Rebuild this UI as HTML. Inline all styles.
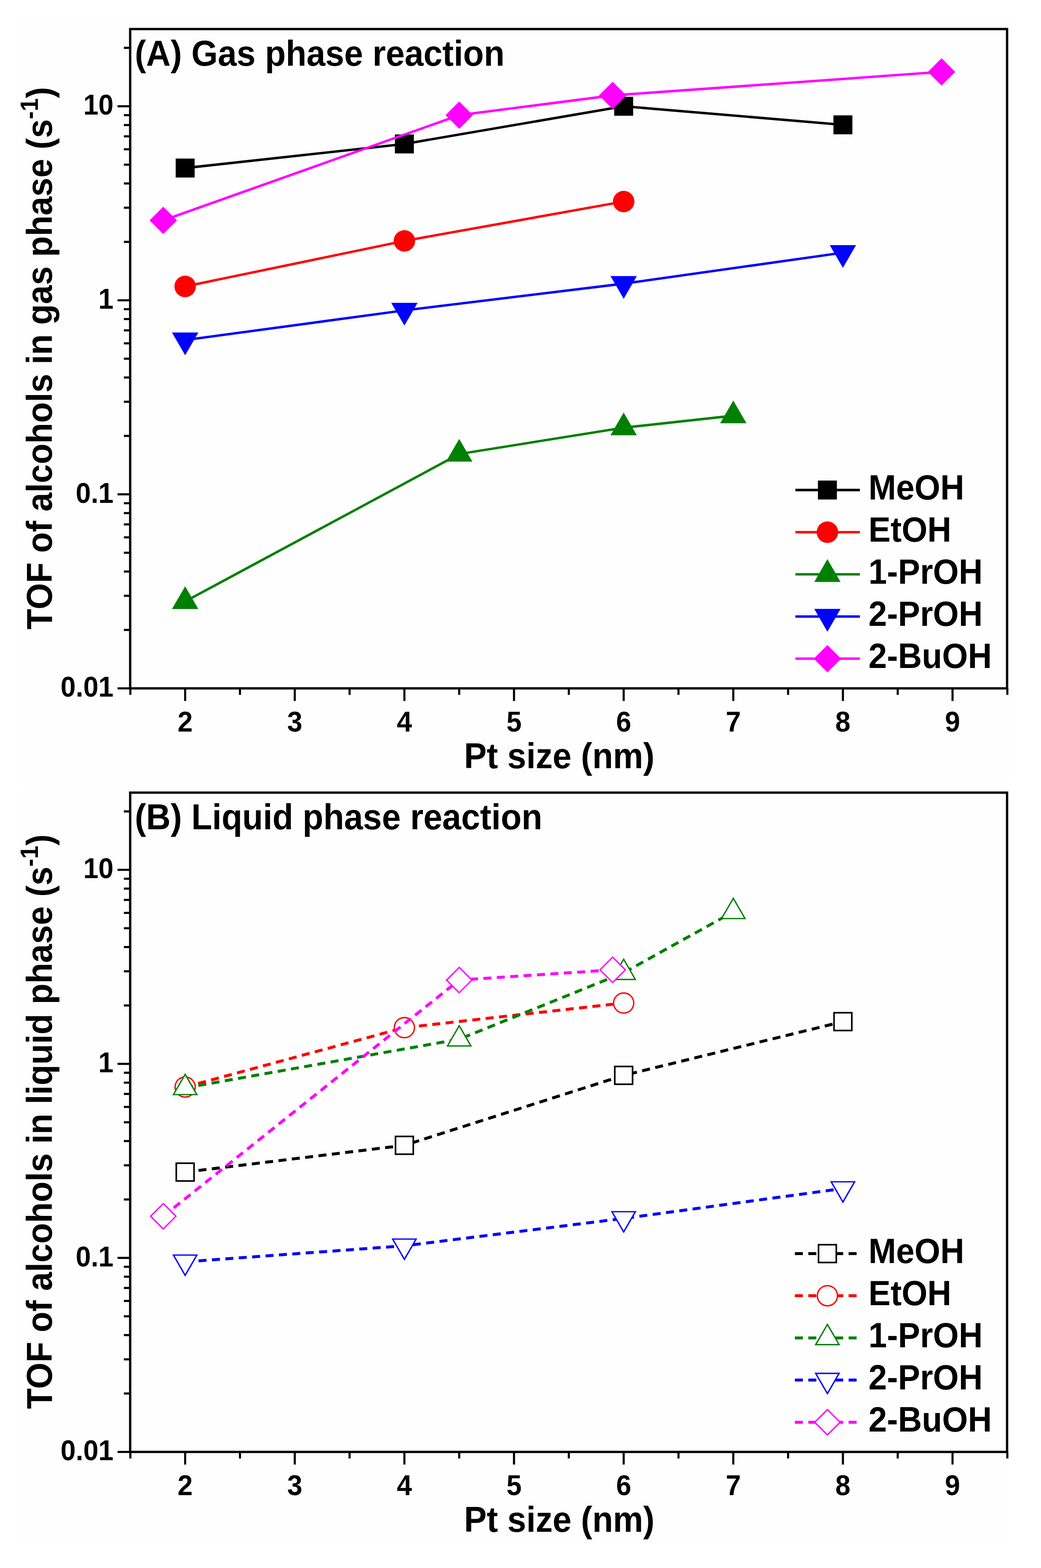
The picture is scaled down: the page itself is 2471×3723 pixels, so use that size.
<!DOCTYPE html><html><head><meta charset="utf-8"><title>TOF of alcohols vs Pt size</title><style>html,body{margin:0;padding:0;background:#fff;overflow:hidden;}svg{display:block}text{font-family:'Liberation Sans',sans-serif;font-weight:bold;fill:#000}</style></head><body>
<svg width="2471" height="3723" viewBox="0 0 2471 3723">
<rect x="0" y="0" width="2471" height="3723" fill="#ffffff"/>
<rect x="38" y="41" width="2363" height="1809" fill="#fefefe"/>
<rect x="47" y="1874" width="2346" height="1789" fill="#fefefe"/>
<rect x="309.0" y="69.0" width="2081.5" height="1565.4" fill="none" stroke="#000" stroke-width="5.5"/>
<line x1="309.4" y1="1634.4" x2="309.4" y2="1649.9" stroke="#000" stroke-width="5"/>
<line x1="439.5" y1="1634.4" x2="439.5" y2="1664.4" stroke="#000" stroke-width="5"/>
<line x1="569.6" y1="1634.4" x2="569.6" y2="1649.9" stroke="#000" stroke-width="5"/>
<line x1="699.7" y1="1634.4" x2="699.7" y2="1664.4" stroke="#000" stroke-width="5"/>
<line x1="829.8" y1="1634.4" x2="829.8" y2="1649.9" stroke="#000" stroke-width="5"/>
<line x1="959.9" y1="1634.4" x2="959.9" y2="1664.4" stroke="#000" stroke-width="5"/>
<line x1="1090.0" y1="1634.4" x2="1090.0" y2="1649.9" stroke="#000" stroke-width="5"/>
<line x1="1220.1" y1="1634.4" x2="1220.1" y2="1664.4" stroke="#000" stroke-width="5"/>
<line x1="1350.2" y1="1634.4" x2="1350.2" y2="1649.9" stroke="#000" stroke-width="5"/>
<line x1="1480.4" y1="1634.4" x2="1480.4" y2="1664.4" stroke="#000" stroke-width="5"/>
<line x1="1610.5" y1="1634.4" x2="1610.5" y2="1649.9" stroke="#000" stroke-width="5"/>
<line x1="1740.6" y1="1634.4" x2="1740.6" y2="1664.4" stroke="#000" stroke-width="5"/>
<line x1="1870.7" y1="1634.4" x2="1870.7" y2="1649.9" stroke="#000" stroke-width="5"/>
<line x1="2000.8" y1="1634.4" x2="2000.8" y2="1664.4" stroke="#000" stroke-width="5"/>
<line x1="2130.9" y1="1634.4" x2="2130.9" y2="1649.9" stroke="#000" stroke-width="5"/>
<line x1="2261.0" y1="1634.4" x2="2261.0" y2="1664.4" stroke="#000" stroke-width="5"/>
<line x1="2391.1" y1="1634.4" x2="2391.1" y2="1649.9" stroke="#000" stroke-width="5"/>
<line x1="279.0" y1="1634.4" x2="309.0" y2="1634.4" stroke="#000" stroke-width="5"/>
<line x1="294.0" y1="1495.7" x2="309.0" y2="1495.7" stroke="#000" stroke-width="5"/>
<line x1="294.0" y1="1414.6" x2="309.0" y2="1414.6" stroke="#000" stroke-width="5"/>
<line x1="294.0" y1="1357.0" x2="309.0" y2="1357.0" stroke="#000" stroke-width="5"/>
<line x1="294.0" y1="1312.4" x2="309.0" y2="1312.4" stroke="#000" stroke-width="5"/>
<line x1="294.0" y1="1275.9" x2="309.0" y2="1275.9" stroke="#000" stroke-width="5"/>
<line x1="294.0" y1="1245.1" x2="309.0" y2="1245.1" stroke="#000" stroke-width="5"/>
<line x1="294.0" y1="1218.3" x2="309.0" y2="1218.3" stroke="#000" stroke-width="5"/>
<line x1="294.0" y1="1194.8" x2="309.0" y2="1194.8" stroke="#000" stroke-width="5"/>
<line x1="279.0" y1="1173.7" x2="309.0" y2="1173.7" stroke="#000" stroke-width="5"/>
<line x1="294.0" y1="1035.0" x2="309.0" y2="1035.0" stroke="#000" stroke-width="5"/>
<line x1="294.0" y1="953.9" x2="309.0" y2="953.9" stroke="#000" stroke-width="5"/>
<line x1="294.0" y1="896.3" x2="309.0" y2="896.3" stroke="#000" stroke-width="5"/>
<line x1="294.0" y1="851.7" x2="309.0" y2="851.7" stroke="#000" stroke-width="5"/>
<line x1="294.0" y1="815.2" x2="309.0" y2="815.2" stroke="#000" stroke-width="5"/>
<line x1="294.0" y1="784.4" x2="309.0" y2="784.4" stroke="#000" stroke-width="5"/>
<line x1="294.0" y1="757.6" x2="309.0" y2="757.6" stroke="#000" stroke-width="5"/>
<line x1="294.0" y1="734.1" x2="309.0" y2="734.1" stroke="#000" stroke-width="5"/>
<line x1="279.0" y1="713.0" x2="309.0" y2="713.0" stroke="#000" stroke-width="5"/>
<line x1="294.0" y1="574.3" x2="309.0" y2="574.3" stroke="#000" stroke-width="5"/>
<line x1="294.0" y1="493.2" x2="309.0" y2="493.2" stroke="#000" stroke-width="5"/>
<line x1="294.0" y1="435.6" x2="309.0" y2="435.6" stroke="#000" stroke-width="5"/>
<line x1="294.0" y1="391.0" x2="309.0" y2="391.0" stroke="#000" stroke-width="5"/>
<line x1="294.0" y1="354.5" x2="309.0" y2="354.5" stroke="#000" stroke-width="5"/>
<line x1="294.0" y1="323.7" x2="309.0" y2="323.7" stroke="#000" stroke-width="5"/>
<line x1="294.0" y1="296.9" x2="309.0" y2="296.9" stroke="#000" stroke-width="5"/>
<line x1="294.0" y1="273.4" x2="309.0" y2="273.4" stroke="#000" stroke-width="5"/>
<line x1="279.0" y1="252.3" x2="309.0" y2="252.3" stroke="#000" stroke-width="5"/>
<line x1="294.0" y1="113.6" x2="309.0" y2="113.6" stroke="#000" stroke-width="5"/>
<line x1="294.0" y1="113.6" x2="309.0" y2="113.6" stroke="#000" stroke-width="5"/>
<text transform="translate(269.5,1654.4) scale(0.95,1)" font-size="68" text-anchor="end" class="t">0.01</text>
<text transform="translate(269.5,1193.7) scale(0.95,1)" font-size="68" text-anchor="end" class="t">0.1</text>
<text transform="translate(269.5,733.0) scale(0.95,1)" font-size="68" text-anchor="end" class="t">1</text>
<text transform="translate(269.5,272.3) scale(0.95,1)" font-size="68" text-anchor="end" class="t">10</text>
<text transform="translate(439.5,1737.3) scale(0.95,1)" font-size="68" text-anchor="middle" class="t">2</text>
<text transform="translate(699.7,1737.3) scale(0.95,1)" font-size="68" text-anchor="middle" class="t">3</text>
<text transform="translate(959.9,1737.3) scale(0.95,1)" font-size="68" text-anchor="middle" class="t">4</text>
<text transform="translate(1220.1,1737.3) scale(0.95,1)" font-size="68" text-anchor="middle" class="t">5</text>
<text transform="translate(1480.4,1737.3) scale(0.95,1)" font-size="68" text-anchor="middle" class="t">6</text>
<text transform="translate(1740.6,1737.3) scale(0.95,1)" font-size="68" text-anchor="middle" class="t">7</text>
<text transform="translate(2000.8,1737.3) scale(0.95,1)" font-size="68" text-anchor="middle" class="t">8</text>
<text transform="translate(2261.0,1737.3) scale(0.95,1)" font-size="68" text-anchor="middle" class="t">9</text>
<text transform="translate(1327.5,1824.3) scale(0.937,1)" font-size="86" text-anchor="middle">Pt size (nm)</text>
<polyline points="439.5,399.0 959.9,341.8 1480.4,252.3 2000.8,296.4" fill="none" stroke="#000000" stroke-width="5.8" stroke-linejoin="round"/>
<rect x="417.0" y="376.5" width="45.0" height="45.0" fill="#000000"/>
<rect x="937.4" y="319.3" width="45.0" height="45.0" fill="#000000"/>
<rect x="1457.9" y="229.8" width="45.0" height="45.0" fill="#000000"/>
<rect x="1978.3" y="273.9" width="45.0" height="45.0" fill="#000000"/>
<polyline points="439.5,680.1 959.9,572.0 1480.4,478.5" fill="none" stroke="#ff0000" stroke-width="5.8" stroke-linejoin="round"/>
<circle cx="439.5" cy="680.1" r="25.5" fill="#ff0000"/>
<circle cx="959.9" cy="572.0" r="25.5" fill="#ff0000"/>
<circle cx="1480.4" cy="478.5" r="25.5" fill="#ff0000"/>
<polyline points="439.5,1428.0 1090.0,1078.0 1480.4,1015.5 1740.6,987.0" fill="none" stroke="#008000" stroke-width="5.8" stroke-linejoin="round"/>
<polygon points="439.5,1391.9 470.8,1446.0 408.2,1446.0" fill="#008000"/>
<polygon points="1090.0,1041.9 1121.3,1096.0 1058.8,1096.0" fill="#008000"/>
<polygon points="1480.4,979.4 1511.6,1033.5 1449.1,1033.5" fill="#008000"/>
<polygon points="1740.6,950.9 1771.8,1005.0 1709.3,1005.0" fill="#008000"/>
<polyline points="439.5,807.4 959.9,737.0 1480.4,673.5 2000.8,600.0" fill="none" stroke="#0000ff" stroke-width="5.8" stroke-linejoin="round"/>
<polygon points="439.5,843.5 470.8,789.4 408.2,789.4" fill="#0000ff"/>
<polygon points="959.9,773.1 991.2,719.0 928.7,719.0" fill="#0000ff"/>
<polygon points="1480.4,709.6 1511.6,655.5 1449.1,655.5" fill="#0000ff"/>
<polygon points="2000.8,636.1 2032.0,582.0 1969.5,582.0" fill="#0000ff"/>
<polyline points="387.5,523.2 1090.0,273.4 1454.3,226.5 2235.0,170.7" fill="none" stroke="#ff00ff" stroke-width="5.8" stroke-linejoin="round"/>
<polygon points="387.5,490.7 420.0,523.2 387.5,555.7 355.0,523.2" fill="#ff00ff"/>
<polygon points="1090.0,240.9 1122.5,273.4 1090.0,305.9 1057.5,273.4" fill="#ff00ff"/>
<polygon points="1454.3,194.0 1486.8,226.5 1454.3,259.0 1421.8,226.5" fill="#ff00ff"/>
<polygon points="2235.0,138.2 2267.5,170.7 2235.0,203.2 2202.5,170.7" fill="#ff00ff"/>
<line x1="1888" y1="1163.5" x2="2041" y2="1163.5" stroke="#000000" stroke-width="5.8"/>
<rect x="1941.5" y="1141.0" width="45.0" height="45.0" fill="#000000"/>
<text transform="translate(2061.5,1185.8) scale(0.947,1)" font-size="83.1" text-anchor="start">MeOH</text>
<line x1="1888" y1="1263.6" x2="2041" y2="1263.6" stroke="#ff0000" stroke-width="5.8"/>
<circle cx="1964.0" cy="1263.6" r="25.5" fill="#ff0000"/>
<text transform="translate(2061.5,1285.9) scale(0.947,1)" font-size="83.1" text-anchor="start">EtOH</text>
<line x1="1888" y1="1363.7" x2="2041" y2="1363.7" stroke="#008000" stroke-width="5.8"/>
<polygon points="1964.0,1327.6 1995.2,1381.7 1932.8,1381.7" fill="#008000"/>
<text transform="translate(2061.5,1386.0) scale(0.947,1)" font-size="83.1" text-anchor="start">1-PrOH</text>
<line x1="1888" y1="1463.8" x2="2041" y2="1463.8" stroke="#0000ff" stroke-width="5.8"/>
<polygon points="1964.0,1499.9 1995.2,1445.8 1932.8,1445.8" fill="#0000ff"/>
<text transform="translate(2061.5,1486.1) scale(0.947,1)" font-size="83.1" text-anchor="start">2-PrOH</text>
<line x1="1888" y1="1563.9" x2="2041" y2="1563.9" stroke="#ff00ff" stroke-width="5.8"/>
<polygon points="1964.0,1531.4 1996.5,1563.9 1964.0,1596.4 1931.5,1563.9" fill="#ff00ff"/>
<text transform="translate(2061.5,1586.2) scale(0.947,1)" font-size="83.1" text-anchor="start">2-BuOH</text>
<text transform="translate(320.0,155.5) scale(0.945,1)" font-size="85.3" text-anchor="start">(A) Gas phase reaction</text>
<text transform="translate(123.0,850.6) rotate(-90) scale(0.937,1)" text-anchor="middle" font-size="86">TOF of alcohols in gas phase (s<tspan dy="-33.3" font-size="59.8">-1</tspan><tspan dy="33.3">)</tspan></text>
<g class="b">
<rect x="309.0" y="1882.0" width="2081.5" height="1565.4" fill="none" stroke="#000" stroke-width="5.5"/>
<line x1="309.4" y1="3447.4" x2="309.4" y2="3462.9" stroke="#000" stroke-width="5"/>
<line x1="439.5" y1="3447.4" x2="439.5" y2="3477.4" stroke="#000" stroke-width="5"/>
<line x1="569.6" y1="3447.4" x2="569.6" y2="3462.9" stroke="#000" stroke-width="5"/>
<line x1="699.7" y1="3447.4" x2="699.7" y2="3477.4" stroke="#000" stroke-width="5"/>
<line x1="829.8" y1="3447.4" x2="829.8" y2="3462.9" stroke="#000" stroke-width="5"/>
<line x1="959.9" y1="3447.4" x2="959.9" y2="3477.4" stroke="#000" stroke-width="5"/>
<line x1="1090.0" y1="3447.4" x2="1090.0" y2="3462.9" stroke="#000" stroke-width="5"/>
<line x1="1220.1" y1="3447.4" x2="1220.1" y2="3477.4" stroke="#000" stroke-width="5"/>
<line x1="1350.2" y1="3447.4" x2="1350.2" y2="3462.9" stroke="#000" stroke-width="5"/>
<line x1="1480.4" y1="3447.4" x2="1480.4" y2="3477.4" stroke="#000" stroke-width="5"/>
<line x1="1610.5" y1="3447.4" x2="1610.5" y2="3462.9" stroke="#000" stroke-width="5"/>
<line x1="1740.6" y1="3447.4" x2="1740.6" y2="3477.4" stroke="#000" stroke-width="5"/>
<line x1="1870.7" y1="3447.4" x2="1870.7" y2="3462.9" stroke="#000" stroke-width="5"/>
<line x1="2000.8" y1="3447.4" x2="2000.8" y2="3477.4" stroke="#000" stroke-width="5"/>
<line x1="2130.9" y1="3447.4" x2="2130.9" y2="3462.9" stroke="#000" stroke-width="5"/>
<line x1="2261.0" y1="3447.4" x2="2261.0" y2="3477.4" stroke="#000" stroke-width="5"/>
<line x1="2391.1" y1="3447.4" x2="2391.1" y2="3462.9" stroke="#000" stroke-width="5"/>
<line x1="279.0" y1="3447.4" x2="309.0" y2="3447.4" stroke="#000" stroke-width="5"/>
<line x1="294.0" y1="3308.7" x2="309.0" y2="3308.7" stroke="#000" stroke-width="5"/>
<line x1="294.0" y1="3227.6" x2="309.0" y2="3227.6" stroke="#000" stroke-width="5"/>
<line x1="294.0" y1="3170.0" x2="309.0" y2="3170.0" stroke="#000" stroke-width="5"/>
<line x1="294.0" y1="3125.4" x2="309.0" y2="3125.4" stroke="#000" stroke-width="5"/>
<line x1="294.0" y1="3088.9" x2="309.0" y2="3088.9" stroke="#000" stroke-width="5"/>
<line x1="294.0" y1="3058.1" x2="309.0" y2="3058.1" stroke="#000" stroke-width="5"/>
<line x1="294.0" y1="3031.3" x2="309.0" y2="3031.3" stroke="#000" stroke-width="5"/>
<line x1="294.0" y1="3007.8" x2="309.0" y2="3007.8" stroke="#000" stroke-width="5"/>
<line x1="279.0" y1="2986.7" x2="309.0" y2="2986.7" stroke="#000" stroke-width="5"/>
<line x1="294.0" y1="2848.0" x2="309.0" y2="2848.0" stroke="#000" stroke-width="5"/>
<line x1="294.0" y1="2766.9" x2="309.0" y2="2766.9" stroke="#000" stroke-width="5"/>
<line x1="294.0" y1="2709.3" x2="309.0" y2="2709.3" stroke="#000" stroke-width="5"/>
<line x1="294.0" y1="2664.7" x2="309.0" y2="2664.7" stroke="#000" stroke-width="5"/>
<line x1="294.0" y1="2628.2" x2="309.0" y2="2628.2" stroke="#000" stroke-width="5"/>
<line x1="294.0" y1="2597.4" x2="309.0" y2="2597.4" stroke="#000" stroke-width="5"/>
<line x1="294.0" y1="2570.6" x2="309.0" y2="2570.6" stroke="#000" stroke-width="5"/>
<line x1="294.0" y1="2547.1" x2="309.0" y2="2547.1" stroke="#000" stroke-width="5"/>
<line x1="279.0" y1="2526.0" x2="309.0" y2="2526.0" stroke="#000" stroke-width="5"/>
<line x1="294.0" y1="2387.3" x2="309.0" y2="2387.3" stroke="#000" stroke-width="5"/>
<line x1="294.0" y1="2306.2" x2="309.0" y2="2306.2" stroke="#000" stroke-width="5"/>
<line x1="294.0" y1="2248.6" x2="309.0" y2="2248.6" stroke="#000" stroke-width="5"/>
<line x1="294.0" y1="2204.0" x2="309.0" y2="2204.0" stroke="#000" stroke-width="5"/>
<line x1="294.0" y1="2167.5" x2="309.0" y2="2167.5" stroke="#000" stroke-width="5"/>
<line x1="294.0" y1="2136.7" x2="309.0" y2="2136.7" stroke="#000" stroke-width="5"/>
<line x1="294.0" y1="2109.9" x2="309.0" y2="2109.9" stroke="#000" stroke-width="5"/>
<line x1="294.0" y1="2086.4" x2="309.0" y2="2086.4" stroke="#000" stroke-width="5"/>
<line x1="279.0" y1="2065.3" x2="309.0" y2="2065.3" stroke="#000" stroke-width="5"/>
<line x1="294.0" y1="1926.6" x2="309.0" y2="1926.6" stroke="#000" stroke-width="5"/>
<line x1="294.0" y1="1926.6" x2="309.0" y2="1926.6" stroke="#000" stroke-width="5"/>
<text transform="translate(269.5,3467.4) scale(0.95,1)" font-size="68" text-anchor="end" class="t">0.01</text>
<text transform="translate(269.5,3006.7) scale(0.95,1)" font-size="68" text-anchor="end" class="t">0.1</text>
<text transform="translate(269.5,2546.0) scale(0.95,1)" font-size="68" text-anchor="end" class="t">1</text>
<text transform="translate(269.5,2085.3) scale(0.95,1)" font-size="68" text-anchor="end" class="t">10</text>
<text transform="translate(439.5,3550.3) scale(0.95,1)" font-size="68" text-anchor="middle" class="t">2</text>
<text transform="translate(699.7,3550.3) scale(0.95,1)" font-size="68" text-anchor="middle" class="t">3</text>
<text transform="translate(959.9,3550.3) scale(0.95,1)" font-size="68" text-anchor="middle" class="t">4</text>
<text transform="translate(1220.1,3550.3) scale(0.95,1)" font-size="68" text-anchor="middle" class="t">5</text>
<text transform="translate(1480.4,3550.3) scale(0.95,1)" font-size="68" text-anchor="middle" class="t">6</text>
<text transform="translate(1740.6,3550.3) scale(0.95,1)" font-size="68" text-anchor="middle" class="t">7</text>
<text transform="translate(2000.8,3550.3) scale(0.95,1)" font-size="68" text-anchor="middle" class="t">8</text>
<text transform="translate(2261.0,3550.3) scale(0.95,1)" font-size="68" text-anchor="middle" class="t">9</text>
<text transform="translate(1327.5,3637.3) scale(0.937,1)" font-size="86" text-anchor="middle">Pt size (nm)</text>
<polyline points="439.5,2783.0 959.9,2719.4 1480.4,2553.3 2000.8,2425.7" fill="none" stroke="#000000" stroke-width="7" stroke-dasharray="19 12.88"/>
<rect x="418.4" y="2761.9" width="42.2" height="42.2" fill="#fefefe" stroke="#000000" stroke-width="3.8"/>
<rect x="938.8" y="2698.3" width="42.2" height="42.2" fill="#fefefe" stroke="#000000" stroke-width="3.8"/>
<rect x="1459.3" y="2532.2" width="42.2" height="42.2" fill="#fefefe" stroke="#000000" stroke-width="3.8"/>
<rect x="1979.7" y="2404.6" width="42.2" height="42.2" fill="#fefefe" stroke="#000000" stroke-width="3.8"/>
<polyline points="439.5,2581.0 959.9,2440.0 1480.4,2381.5" fill="none" stroke="#ff0000" stroke-width="7" stroke-dasharray="19 12.88"/>
<circle cx="439.5" cy="2581.0" r="23.9" fill="#fefefe" stroke="#ff0000" stroke-width="3.2"/>
<circle cx="959.9" cy="2440.0" r="23.9" fill="#fefefe" stroke="#ff0000" stroke-width="3.2"/>
<circle cx="1480.4" cy="2381.5" r="23.9" fill="#fefefe" stroke="#ff0000" stroke-width="3.2"/>
<polyline points="439.5,2583.0 1090.0,2467.5 1480.4,2309.7 1740.6,2165.0" fill="none" stroke="#008000" stroke-width="7" stroke-dasharray="19 12.88"/>
<polygon points="439.5,2550.9 467.3,2599.0 411.7,2599.0" fill="#fefefe" stroke="#008000" stroke-width="3.2" stroke-linejoin="miter"/>
<polygon points="1090.0,2435.4 1117.8,2483.5 1062.3,2483.5" fill="#fefefe" stroke="#008000" stroke-width="3.2" stroke-linejoin="miter"/>
<polygon points="1480.4,2277.6 1508.1,2325.7 1452.6,2325.7" fill="#fefefe" stroke="#008000" stroke-width="3.2" stroke-linejoin="miter"/>
<polygon points="1740.6,2132.9 1768.4,2181.0 1712.8,2181.0" fill="#fefefe" stroke="#008000" stroke-width="3.2" stroke-linejoin="miter"/>
<polyline points="439.5,2996.0 959.9,2958.0 1480.4,2893.0 2000.8,2822.0" fill="none" stroke="#0000ff" stroke-width="7" stroke-dasharray="19 12.88"/>
<polygon points="439.5,3028.1 467.3,2980.0 411.7,2980.0" fill="#fefefe" stroke="#0000ff" stroke-width="3.2" stroke-linejoin="miter"/>
<polygon points="959.9,2990.1 987.7,2942.0 932.1,2942.0" fill="#fefefe" stroke="#0000ff" stroke-width="3.2" stroke-linejoin="miter"/>
<polygon points="1480.4,2925.1 1508.1,2877.0 1452.6,2877.0" fill="#fefefe" stroke="#0000ff" stroke-width="3.2" stroke-linejoin="miter"/>
<polygon points="2000.8,2854.1 2028.6,2806.0 1973.0,2806.0" fill="#fefefe" stroke="#0000ff" stroke-width="3.2" stroke-linejoin="miter"/>
<polyline points="387.5,2887.8 1090.0,2327.0 1454.3,2302.8" fill="none" stroke="#ff00ff" stroke-width="7" stroke-dasharray="19 12.88"/>
<polygon points="387.5,2857.7 417.6,2887.8 387.5,2917.9 357.4,2887.8" fill="#fefefe" stroke="#ff00ff" stroke-width="3.2"/>
<polygon points="1090.0,2296.9 1120.1,2327.0 1090.0,2357.1 1059.9,2327.0" fill="#fefefe" stroke="#ff00ff" stroke-width="3.2"/>
<polygon points="1454.3,2272.7 1484.4,2302.8 1454.3,2332.9 1424.2,2302.8" fill="#fefefe" stroke="#ff00ff" stroke-width="3.2"/>
<line x1="1886.8" y1="2976.5" x2="2034" y2="2976.5" stroke="#000000" stroke-width="7" stroke-dasharray="19 12.88"/>
<rect x="1942.9" y="2955.4" width="42.2" height="42.2" fill="#fefefe" stroke="#000000" stroke-width="3.8"/>
<text transform="translate(2061.5,2998.8) scale(0.947,1)" font-size="83.1" text-anchor="start">MeOH</text>
<line x1="1886.8" y1="3076.6" x2="2034" y2="3076.6" stroke="#ff0000" stroke-width="7" stroke-dasharray="19 12.88"/>
<circle cx="1964.0" cy="3076.6" r="23.9" fill="#fefefe" stroke="#ff0000" stroke-width="3.2"/>
<text transform="translate(2061.5,3098.9) scale(0.947,1)" font-size="83.1" text-anchor="start">EtOH</text>
<line x1="1886.8" y1="3176.7" x2="2034" y2="3176.7" stroke="#008000" stroke-width="7" stroke-dasharray="19 12.88"/>
<polygon points="1964.0,3144.6 1991.8,3192.7 1936.2,3192.7" fill="#fefefe" stroke="#008000" stroke-width="3.2" stroke-linejoin="miter"/>
<text transform="translate(2061.5,3199.0) scale(0.947,1)" font-size="83.1" text-anchor="start">1-PrOH</text>
<line x1="1886.8" y1="3276.8" x2="2034" y2="3276.8" stroke="#0000ff" stroke-width="7" stroke-dasharray="19 12.88"/>
<polygon points="1964.0,3308.9 1991.8,3260.8 1936.2,3260.8" fill="#fefefe" stroke="#0000ff" stroke-width="3.2" stroke-linejoin="miter"/>
<text transform="translate(2061.5,3299.1) scale(0.947,1)" font-size="83.1" text-anchor="start">2-PrOH</text>
<line x1="1886.8" y1="3376.9" x2="2034" y2="3376.9" stroke="#ff00ff" stroke-width="7" stroke-dasharray="19 12.88"/>
<polygon points="1964.0,3346.8 1994.1,3376.9 1964.0,3407.0 1933.9,3376.9" fill="#fefefe" stroke="#ff00ff" stroke-width="3.2"/>
<text transform="translate(2061.5,3399.2) scale(0.947,1)" font-size="83.1" text-anchor="start">2-BuOH</text>
<text transform="translate(320.0,1968.5) scale(0.945,1)" font-size="85.3" text-anchor="start">(B) Liquid phase reaction</text>
<text transform="translate(123.0,2663.25) rotate(-90) scale(0.937,1)" text-anchor="middle" font-size="86">TOF of alcohols in liquid phase (s<tspan dy="-33.3" font-size="59.8">-1</tspan><tspan dy="33.3">)</tspan></text>
</g>
</svg></body></html>
